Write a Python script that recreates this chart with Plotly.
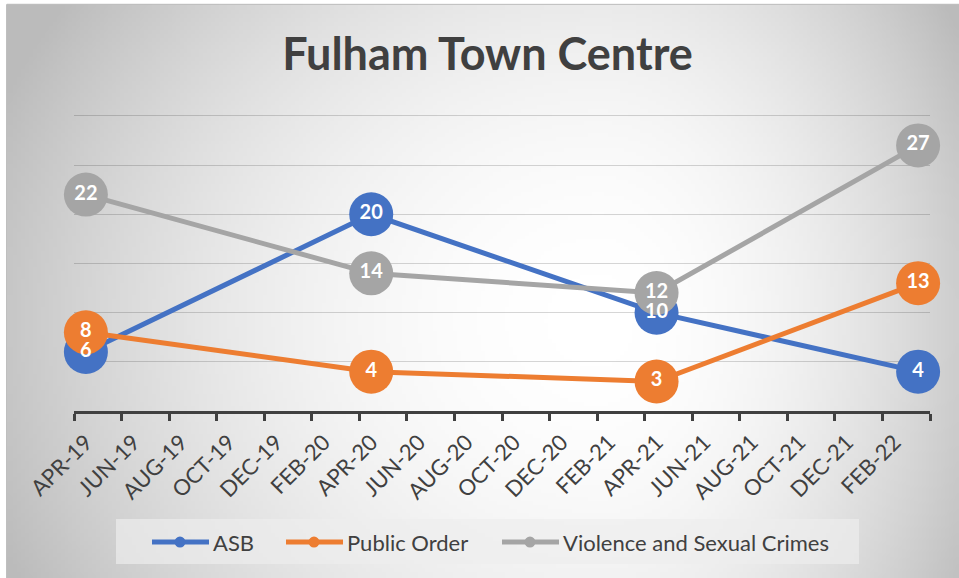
import base64
import struct
import zlib

import plotly.graph_objects as go

# ---------------- data ----------------
months = ["2019-04", "2020-04", "2021-04", "2022-03"]
series_names = ["ASB", "Public Order", "Violence and Sexual Crimes"]
asb = [6, 20, 10, 4]
public_order = [8, 4, 3, 13]
violence = [22, 14, 12, 27]
tick_labels = ["APR-19", "JUN-19", "AUG-19", "OCT-19", "DEC-19", "FEB-20",
               "APR-20", "JUN-20", "AUG-20", "OCT-20", "DEC-20", "FEB-21",
               "APR-21", "JUN-21", "AUG-21", "OCT-21", "DEC-21", "FEB-22"]
title_text = "Fulham Town Centre"

colors = ["#4472C4", "#ED7D31", "#A5A5A5"]
values = [asb, public_order, violence]


# month index (from APR-19), points centred in the month
def month_pos(s):
    y, m = s.split("-")
    return (int(y) - 2019) * 12 + int(m) - 4 + 0.5


x_vals = [month_pos(m) for m in months]
tick_vals = list(range(0, 2 * len(tick_labels), 2)) + [2 * len(tick_labels)]
tick_text = tick_labels + [""]

# ---------------- layout geometry ----------------
W, H = 959, 578
Y_MAX = 30.5
ML, MR, MB = 74, 29, 167
MT = round(411 - 295 * Y_MAX / 30, 2)
PW, PH = W - ML - MR, H - MT - MB


def px(xp):
    return (xp - ML) / PW


def py(yp):
    return (H - MB - yp) / PH


# ---------------- background gradient image ----------------
def gradient_png(w, h):
    rows = []
    x0, y0, x1, y1 = 7, 4, 959, 578
    cx, cy = 600, 320
    for j in range(h):
        Y = y0 + (j + 0.5) / h * (y1 - y0)
        row = bytearray([0])
        for i in range(w):
            X = x0 + (i + 0.5) / w * (x1 - x0)
            rx = 620 if X < cx else 400
            ry = 540 if Y < cy else 560
            t = (((X - cx) / rx) ** 2 + ((Y - cy) / ry) ** 2) ** 0.5
            t = min(t, 1.05)
            v = int(round(255 - 62 * t ** 2))
            row.append(max(0, min(255, v)))
        rows.append(bytes(row))
    raw = b"".join(rows)

    def chunk(tag, data):
        return (struct.pack(">I", len(data)) + tag + data +
                struct.pack(">I", zlib.crc32(tag + data) & 0xffffffff))

    png = b"\x89PNG\r\n\x1a\n"
    png += chunk(b"IHDR", struct.pack(">IIBBBBB", w, h, 8, 0, 0, 0, 0))
    png += chunk(b"IDAT", zlib.compress(raw, 9))
    png += chunk(b"IEND", b"")
    return "data:image/png;base64," + base64.b64encode(png).decode()


bg_src = gradient_png(240, 145)

# ---------------- figure ----------------
fig = go.Figure()

for name, vals, col in zip(series_names, values, colors):
    fig.add_trace(go.Scatter(
        x=x_vals, y=vals, name=name, mode="lines+markers",
        line=dict(color=col, width=5),
        marker=dict(color=col, size=44, line=dict(width=0)),
        showlegend=False, hoverinfo="skip", cliponaxis=False,
    ))

for name, vals, col in zip(series_names, values, colors):
    fig.add_trace(go.Scatter(
        x=x_vals, y=vals, mode="text", text=[str(v) for v in vals],
        textposition="middle center",
        textfont=dict(family="Lato", size=20, color="white", weight="bold"),
        showlegend=False, hoverinfo="skip", cliponaxis=False,
    ))

shapes = []
annotations = []

# chart border
shapes.append(dict(type="rect", xref="paper", yref="paper",
                   x0=px(6.5), x1=px(962), y0=py(4.5), y1=py(582),
                   line=dict(color="#BFBFBF", width=1), fillcolor="rgba(0,0,0,0)",
                   layer="below"))

# legend box
shapes.append(dict(type="rect", xref="paper", yref="paper",
                   x0=px(116), x1=px(859), y0=py(519), y1=py(564),
                   line=dict(width=0), fillcolor="rgba(237,237,237,0.68)",
                   layer="below"))

legend_line_x = [152, 286, 502]
legend_y = 542
for name, col, lx in zip(series_names, colors, legend_line_x):
    shapes.append(dict(type="line", xref="paper", yref="paper",
                       x0=px(lx), x1=px(lx + 57), y0=py(legend_y), y1=py(legend_y),
                       line=dict(color=col, width=5)))
    cxp = lx + 28
    r = 5.5
    shapes.append(dict(type="circle", xref="paper", yref="paper",
                       x0=px(cxp - r), x1=px(cxp + r), y0=py(legend_y - r), y1=py(legend_y + r),
                       line=dict(width=0), fillcolor=col))
    annotations.append(dict(xref="paper", yref="paper", x=px(lx + 59), y=py(legend_y),
                            xanchor="left", yanchor="middle", showarrow=False,
                            text=name,
                            font=dict(family="Lato", size=22, color="#404040")))

fig.update_layout(
    width=W, height=H,
    margin=dict(l=ML, r=MR, t=MT, b=MB, autoexpand=False),
    paper_bgcolor="white",
    plot_bgcolor="rgba(0,0,0,0)",
    title=dict(text=title_text, xref="container", yref="container",
               x=487.5 / W, y=1 - 54 / H, xanchor="center", yanchor="middle",
               font=dict(family="Lato", size=45, color="#404040", weight="bold")),
    xaxis=dict(range=[0, 2 * len(tick_labels)], tickmode="array",
               tickvals=tick_vals, ticktext=tick_text, tickangle=-45,
               ticks="outside", ticklen=7, tickwidth=2.5, tickcolor="#404040",
               showline=True, linecolor="#404040", linewidth=2.5,
               showgrid=False, zeroline=False, automargin=False,
               ticklabelshift=12,
               tickfont=dict(family="Lato", size=22, color="#404040")),
    yaxis=dict(range=[0, Y_MAX], tickmode="array", tickvals=[5, 10, 15, 20, 25, 30],
               showticklabels=False,
               showgrid=True, gridcolor="rgba(0,0,0,0.16)", gridwidth=1.3,
               zeroline=False, showline=False, ticks="", automargin=False),
    images=[dict(source=bg_src, xref="paper", yref="paper",
                 x=px(7), y=py(4), sizex=(W - 7) / PW, sizey=(H - 4) / PH,
                 xanchor="left", yanchor="top", sizing="stretch", layer="below")],
    shapes=shapes,
    annotations=annotations,
    showlegend=False,
)

fig.write_html("out.html", config={"displayModeBar": False},
               post_script="document.body.style.margin='0';document.body.style.overflow='hidden';")
